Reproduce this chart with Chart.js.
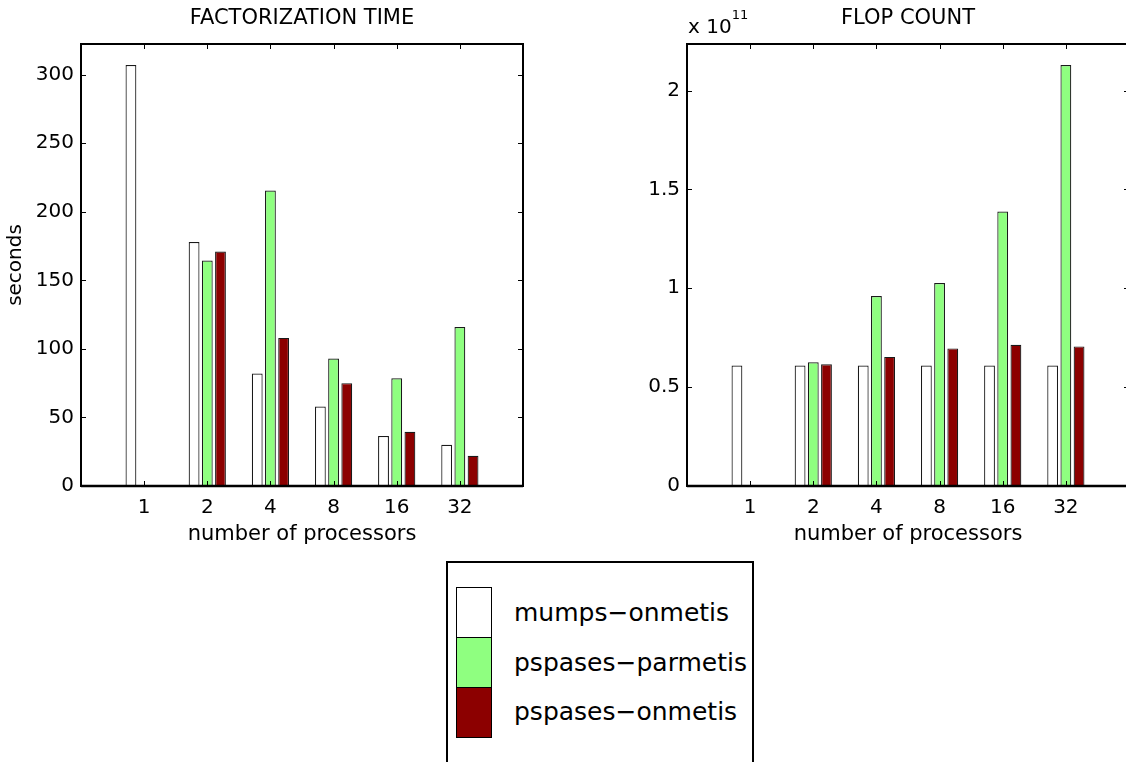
<!DOCTYPE html>
<html>
<head>
<meta charset="utf-8">
<script src="https://cdn.jsdelivr.net/npm/chart.js@4/dist/chart.umd.min.js"></script>
<style>
  html, body { margin: 0; padding: 0; background: #fff; overflow: hidden; width: 1126px; height: 762px; }
  .wrap { position: absolute; }
  #legend { position: absolute; left: 446px; top: 561px; width: 308px; height: 260px; border: 2px solid #000; box-sizing: border-box; background: #fff; font-family: "DejaVu Sans", sans-serif; }
  .sw { position: absolute; left: 8px; width: 36px; height: 51px; border: 1px solid #000; box-sizing: border-box; }
  .lt { position: absolute; left: 66px; font-size: 25px; line-height: 30px; color: #000; white-space: nowrap; }
</style>
</head>
<body>
<div class="wrap" style="left:0;top:0;"><canvas id="c1" width="560" height="560"></canvas></div>
<div class="wrap" style="left:560px;top:0;"><canvas id="c2" width="600" height="560"></canvas></div>
<div id="legend"></div>
<script>
// ---- data ----
const categories = ['1', '2', '4', '8', '16', '32'];
const seriesNames = ['mumps\u2212onmetis', 'pspases\u2212parmetis', 'pspases\u2212onmetis'];
const seriesColors = ['#ffffff', '#8fff80', '#8c0000'];

const timeMumps    = [307, 178, 82, 58, 36.5, 30];
const timeParmetis = [0, 164.5, 215.5, 93, 78.5, 116];
const timeOnmetis  = [0, 171, 108, 75, 39.5, 22];

const flopMumps    = [6.09e10, 6.09e10, 6.09e10, 6.09e10, 6.09e10, 6.09e10];
const flopParmetis = [0, 6.26e10, 9.61e10, 1.027e11, 1.388e11, 2.129e11];
const flopOnmetis  = [0, 6.16e10, 6.53e10, 6.96e10, 7.14e10, 7.06e10];

const timeTickValues = [0, 50, 100, 150, 200, 250, 300];
const flopTickValues = [0, 0.5e11, 1e11, 1.5e11, 2e11];
const flopExponent = 11;

// ---- helpers ----
const FONT = '"DejaVu Sans", sans-serif';
const labels = [''].concat(categories, ['']);
const pad = arr => [null].concat(arr, [null]);

function makeDatasets(a, b, c) {
  return [a, b, c].map((arr, i) => ({
    label: seriesNames[i],
    data: pad(arr),
    backgroundColor: seriesColors[i],
    borderColor: '#1a1a1a',
    borderWidth: 1.2,
    borderSkipped: 'start',
    categoryPercentage: 0.627,
    barPercentage: 0.82
  }));
}

const boxPlugin = {
  id: 'matlabBox',
  afterDatasetsDraw(chart) {
    const ctx = chart.ctx;
    const a = chart.chartArea;
    const L = Math.round(a.left), R = Math.round(a.right);
    const T = Math.round(a.top), B = Math.round(a.bottom);
    const tl = 5;
    ctx.save();
    ctx.strokeStyle = '#000';
    // inward tick marks
    ctx.lineWidth = 1;
    ctx.beginPath();
    const xs = chart.scales.x;
    for (let i = 1; i <= categories.length; i++) {
      const px = Math.round(xs.getPixelForValue(i)) + 0.5;
      ctx.moveTo(px, B); ctx.lineTo(px, B - tl);
      ctx.moveTo(px, T); ctx.lineTo(px, T + tl);
    }
    const ys = chart.scales.y;
    ys.ticks.forEach(t => {
      const py = Math.round(ys.getPixelForValue(t.value)) + 0.5;
      ctx.moveTo(L, py); ctx.lineTo(L + tl, py);
      ctx.moveTo(R, py); ctx.lineTo(R - tl, py);
    });
    ctx.stroke();
    // axes box
    ctx.lineWidth = 2;
    ctx.beginPath();
    ctx.rect(L, T, R - L, B - T);
    ctx.stroke();
    ctx.lineWidth = 2.5;
    ctx.beginPath();
    ctx.moveTo(L, B); ctx.lineTo(R, B);
    ctx.stroke();
    ctx.restore();
  }
};

const expPlugin = {
  id: 'expLabel',
  afterDraw(chart) {
    if (!chart.options.plugins.expLabel || !chart.options.plugins.expLabel.show) return;
    const ctx = chart.ctx;
    const a = chart.chartArea;
    ctx.save();
    ctx.fillStyle = '#000';
    ctx.textBaseline = 'alphabetic';
    ctx.textAlign = 'left';
    ctx.font = '20px ' + FONT;
    const base = 'x 10';
    ctx.fillText(base, a.left + 1, 33);
    const w = ctx.measureText(base).width;
    ctx.font = '13px ' + FONT;
    ctx.fillText(String(flopExponent), a.left + 1 + w, 19);
    ctx.restore();
  }
};

function makeChart(id, datasets, opts) {
  return new Chart(document.getElementById(id), {
    type: 'bar',
    data: { labels: labels, datasets: datasets },
    plugins: [boxPlugin, expPlugin],
    options: {
      responsive: false,
      animation: false,
      layout: { padding: { left: 0, right: opts.padRight, top: 0, bottom: 0 } },
      plugins: {
        legend: { display: false },
        tooltip: { enabled: false },
        title: {
          display: true, text: opts.title, fullSize: false,
          color: '#000', font: { family: FONT, size: 21, weight: 'normal' },
          padding: { top: 5.5, bottom: 13.3 }
        },
        expLabel: { show: opts.showExp }
      },
      scales: {
        x: {
          type: 'category',
          offset: false,
          grid: { display: false, drawTicks: false },
          border: { display: false },
          ticks: { color: '#000', font: { family: FONT, size: 20 }, padding: 10, maxRotation: 0, autoSkip: false },
          title: {
            display: true, text: 'number of processors', color: '#000',
            font: { family: FONT, size: 21 }, padding: { top: 0, bottom: 12.4 }
          },
          afterFit(s) { s.height = 74; }
        },
        y: {
          min: 0,
          max: opts.ymax,
          grid: { display: false, drawTicks: false },
          border: { display: false },
          afterBuildTicks(s) { s.ticks = opts.tickValues.map(v => ({ value: v })); },
          ticks: {
            color: '#000',
            font: { family: FONT, size: 20 }, padding: 7,
            callback: opts.tickCb
          },
          title: {
            display: opts.ytitle !== '', text: opts.ytitle, color: '#000',
            font: { family: FONT, size: 20 }, padding: { top: 4, bottom: 0 }
          },
          afterFit(s) { s.width = opts.yWidth; }
        }
      }
    }
  });
}

const timeMax = Math.max(...timeMumps, ...timeParmetis, ...timeOnmetis) * 1.05;
const flopMax = Math.max(...flopMumps, ...flopParmetis, ...flopOnmetis) * 1.05;

makeChart('c1', makeDatasets(timeMumps, timeParmetis, timeOnmetis), {
  title: 'FACTORIZATION TIME', ymax: timeMax, tickValues: timeTickValues,
  tickCb: v => String(v), ytitle: 'seconds', yWidth: 81, padRight: 37, showExp: false
});

makeChart('c2', makeDatasets(flopMumps, flopParmetis, flopOnmetis), {
  title: 'FLOP COUNT', ymax: flopMax, tickValues: flopTickValues,
  tickCb: v => String(+(v / Math.pow(10, flopExponent)).toFixed(2)),
  ytitle: '', yWidth: 127, padRight: 31, showExp: true
});

// ---- legend ----
const lg = document.getElementById('legend');
const swTops = [24, 74, 124];
const txtTops = [35, 85, 134];
seriesNames.forEach((n, i) => {
  const s = document.createElement('div');
  s.className = 'sw';
  s.style.top = swTops[i] + 'px';
  s.style.background = seriesColors[i];
  lg.appendChild(s);
  const t = document.createElement('div');
  t.className = 'lt';
  t.style.top = txtTops[i] + 'px';
  t.textContent = n;
  lg.appendChild(t);
});
</script>
</body>
</html>
